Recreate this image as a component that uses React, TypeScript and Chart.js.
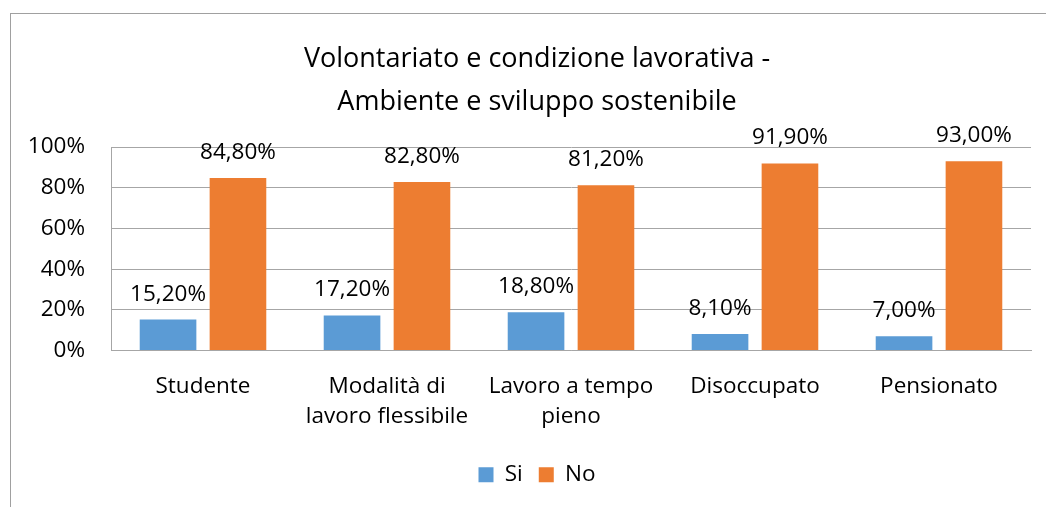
import React, { useEffect, useRef } from "react";
import { Chart, registerables } from "chart.js";

Chart.register(...registerables);

const categories = [
  "Studente",
  "Modalità di lavoro flessibile",
  "Lavoro a tempo pieno",
  "Disoccupato",
  "Pensionato",
];
const categoryTickLines = [
  ["Studente"],
  ["Modalità di", "lavoro flessibile"],
  ["Lavoro a tempo", "pieno"],
  ["Disoccupato"],
  ["Pensionato"],
];
const siValues = [15.2, 17.2, 18.8, 8.1, 7.0];
const noValues = [84.8, 82.8, 81.2, 91.9, 93.0];
const seriesNames = ["Si", "No"];
const titleLines = ["Volontariato e condizione lavorativa -", "Ambiente e sviluppo sostenibile"];
const yTickValues = [0, 20, 40, 60, 80, 100];

const FONT = "'Open Sans', 'Noto Sans', sans-serif";
const BLUE = "#5B9BD5";
const ORANGE = "#ED7D31";
const GRID = "#a6a6a6";

const fmt = (v: number) => v.toFixed(2).replace(".", ",") + "%";

const borderPlugin = {
  id: "outerBorder",
  beforeDraw(chart: any) {
    const ctx = chart.ctx;
    ctx.save();
    ctx.strokeStyle = "#a0a0a0";
    ctx.lineWidth = 1;
    ctx.strokeRect(10.5, 13.5, 3000, 3000);
    ctx.restore();
  },
};

const labelPlugin = {
  id: "valueLabels",
  afterDatasetsDraw(chart: any) {
    const ctx = chart.ctx;
    ctx.save();
    ctx.font = `22.5px ${FONT}`;
    ctx.fillStyle = "#000";
    ctx.textAlign = "center";
    ctx.textBaseline = "alphabetic";
    chart.data.datasets.forEach((ds: any, i: number) => {
      const meta = chart.getDatasetMeta(i);
      meta.data.forEach((el: any, j: number) => {
        ctx.fillText(fmt(ds.data[j]), el.x, el.y - 19);
      });
    });
    ctx.restore();
  },
};

export default function App() {
  const ref = useRef<HTMLCanvasElement | null>(null);
  useEffect(() => {
    if (!ref.current) return;
    const chart = new Chart(ref.current, {
      type: "bar",
      data: {
        labels: categoryTickLines as any,
        datasets: [
          {
            label: seriesNames[0],
            data: siValues,
            backgroundColor: BLUE,
            categoryPercentage: 0.76,
            barPercentage: 0.81,
          },
          {
            label: seriesNames[1],
            data: noValues,
            backgroundColor: ORANGE,
            categoryPercentage: 0.76,
            barPercentage: 0.81,
          },
        ],
      },
      options: {
        animation: false,
        responsive: false,
        maintainAspectRatio: false,
        layout: { padding: { left: 10, right: 0, top: 0, bottom: 11 } },
        plugins: {
          title: {
            display: true,
            text: titleLines,
            color: "#000",
            font: { family: FONT, size: 27, weight: "normal", lineHeight: 1.6 },
            padding: { top: 38, bottom: 22.6 },
          },
          legend: {
            position: "bottom",
            labels: {
              color: "#000",
              font: { family: FONT, size: 22.5 },
              boxWidth: 15,
              boxHeight: 15,
              padding: 16,
            },
          },
          tooltip: { enabled: false },
        },
        scales: {
          x: {
            grid: { display: false },
            border: { display: true, color: GRID },
            ticks: {
              color: "#000",
              font: { family: FONT, size: 22.5, lineHeight: 1.333 },
              padding: 13,
              maxRotation: 0,
              autoSkip: false,
            },
            afterFit(scale: any) {
              scale.height = 97;
            },
          },
          y: {
            min: 0,
            max: 100,
            afterBuildTicks(scale: any) {
              scale.ticks = yTickValues.map((v) => ({ value: v }));
            },
            grid: { color: GRID, drawTicks: false },
            border: { display: true, color: GRID },
            ticks: {
              color: "#000",
              font: { family: FONT, size: 22.5 },
              padding: 26,
              callback: (v: any) => v + "%",
            },
            afterFit(scale: any) {
              scale.width = 101;
            },
          },
          yRight: {
            position: "right",
            display: true,
            grid: { display: false },
            border: { display: false },
            ticks: { display: false },
            afterFit(scale: any) {
              scale.width = 33;
            },
          },
        },
      },
      plugins: [borderPlugin, labelPlugin],
    });
    return () => chart.destroy();
  }, []);
  return (
    <div style={{ position: "fixed", left: 0, top: 0, width: 1046, height: 507, overflow: "hidden", background: "#fff" }}>
      <canvas ref={ref} width={1064} height={507} style={{ display: "block" }} />
    </div>
  );
}
